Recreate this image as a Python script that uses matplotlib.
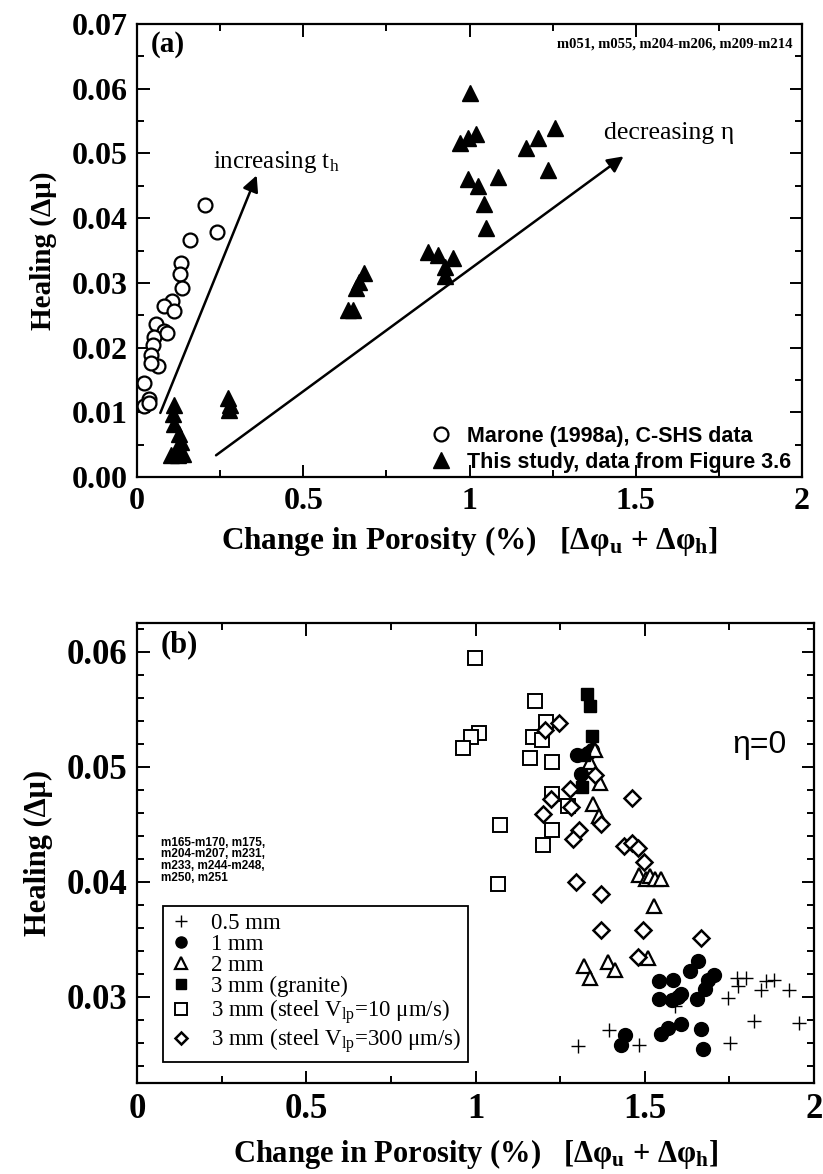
import matplotlib
matplotlib.use("Agg")
import matplotlib.pyplot as plt
from matplotlib.ticker import MultipleLocator, FixedLocator, FixedFormatter

plt.rcParams['font.family'] = ['Liberation Serif', 'DejaVu Serif']
plt.rcParams['mathtext.fontset'] = 'custom'
plt.rcParams['mathtext.rm'] = 'Liberation Serif'
plt.rcParams['mathtext.it'] = 'Liberation Serif:italic'
plt.rcParams['mathtext.bf'] = 'Liberation Serif:bold'

# ---- panel (a) data ----
marone_x = [0.205, 0.241, 0.160, 0.132, 0.130, 0.134, 0.104, 0.082, 0.110, 0.057, 0.082,
            0.052, 0.047, 0.042, 0.062, 0.042, 0.022, 0.037, 0.022, 0.090, 0.035]
marone_y = [0.0420, 0.0379, 0.0366, 0.0330, 0.0313, 0.0292, 0.0272, 0.0264, 0.0257, 0.0237, 0.0226,
            0.0216, 0.0204, 0.0189, 0.0171, 0.0176, 0.0145, 0.0120, 0.0110, 0.0222, 0.0115]

study_x = [0.110, 0.107, 0.112, 0.127, 0.132, 0.117, 0.137, 0.102, 0.122,
           0.273, 0.280, 0.276,
           0.634, 0.649, 0.659, 0.669, 0.684,
           0.875, 0.905, 0.950, 0.925, 0.925,
           1.256, 1.206, 1.170, 1.236, 1.085, 1.020, 0.995, 0.970, 0.995, 1.025, 1.043, 1.050, 1.000]
study_y = [0.0112, 0.0097, 0.0082, 0.0067, 0.0054, 0.0041, 0.0036, 0.0034, 0.0034,
           0.0122, 0.0112, 0.0103,
           0.0258, 0.0258, 0.0292, 0.0302, 0.0315,
           0.0348, 0.0343, 0.0338, 0.0325, 0.0310,
           0.0539, 0.0524, 0.0508, 0.0475, 0.0464, 0.0530, 0.0524, 0.0516, 0.0460, 0.0450, 0.0422, 0.0384, 0.0593]

# ---- panel (b) data ----
x05 = [1.302, 1.395, 1.482, 1.590, 1.747, 1.753, 1.773, 1.775, 1.799, 1.824, 1.843, 1.858, 1.881, 1.927, 1.956]
y05 = [0.0257, 0.0271, 0.0258, 0.0292, 0.0299, 0.0260, 0.0316, 0.0309, 0.0316, 0.0279, 0.0306, 0.0314, 0.0315, 0.0306, 0.0277]

x1 = [1.313, 1.300, 1.333, 1.345, 1.429, 1.441, 1.542, 1.583, 1.542, 1.580, 1.608, 1.598,
      1.655, 1.635, 1.657, 1.706, 1.686, 1.678, 1.549, 1.569, 1.608, 1.665, 1.672]
y1 = [0.0494, 0.0510, 0.0512, 0.0515, 0.0258, 0.0267, 0.0314, 0.0315, 0.0298, 0.0297, 0.0302, 0.0300,
      0.0298, 0.0322, 0.0331, 0.0319, 0.0315, 0.0307, 0.0268, 0.0273, 0.0276, 0.0272, 0.0255]

x2 = [1.338, 1.367, 1.348, 1.365, 1.353, 1.483, 1.505, 1.515, 1.529, 1.547, 1.527, 1.510, 1.321, 1.338, 1.392, 1.413]
y2 = [0.0504, 0.0486, 0.0468, 0.0457, 0.0515, 0.0406, 0.0402, 0.0405, 0.0402, 0.0402, 0.0379, 0.0334, 0.0327, 0.0316, 0.0330, 0.0323]

xg = [1.328, 1.338, 1.343, 1.315, 1.320]
yg = [0.0563, 0.0553, 0.0527, 0.0482, 0.0510]

xs10 = [0.999, 1.176, 1.207, 1.009, 0.988, 0.962, 1.171, 1.196, 1.161, 1.225, 1.225, 1.272, 1.071, 1.225, 1.198, 1.065]
ys10 = [0.0595, 0.0557, 0.0539, 0.0529, 0.0526, 0.0516, 0.0526, 0.0523, 0.0508, 0.0504, 0.0476, 0.0466, 0.0449, 0.0445, 0.0432, 0.0398]

xs300 = [1.247, 1.205, 1.353, 1.279, 1.222, 1.282, 1.461, 1.200, 1.372, 1.307, 1.289, 1.439, 1.461, 1.480,
         1.498, 1.297, 1.372, 1.372, 1.495, 1.667, 1.480]
ys300 = [0.0538, 0.0532, 0.0493, 0.0481, 0.0472, 0.0465, 0.0473, 0.0459, 0.0450, 0.0445, 0.0437, 0.0431, 0.0434, 0.0429,
         0.0417, 0.0400, 0.0389, 0.0358, 0.0358, 0.0351, 0.0335]

xticks = [0, 0.5, 1, 1.5, 2]
xtick_labels = ['0', '0.5', '1', '1.5', '2']
xlabel = r'Change in Porosity (%)   [Δφ$_\mathregular{u}$ + Δφ$_\mathregular{h}$]'


def style_axis(ax, lab_size):
    for s in ax.spines.values():
        s.set_linewidth(1.6)
    ax.tick_params(which='both', direction='in', top=True, right=True, width=1.4)
    ax.tick_params(which='major', length=9, labelsize=lab_size, pad=7)
    ax.tick_params(which='minor', length=5)
    for t in ax.get_xticklabels() + ax.get_yticklabels():
        t.set_fontweight('bold')


fig = plt.figure(figsize=(8.23, 11.74), dpi=100)

# ---------------- (a) ----------------
ax1 = fig.add_axes([137 / 823, 1 - 477 / 1174, (802 - 137) / 823, (477 - 24) / 1174])
ax1.plot(marone_x, marone_y, 'o', mfc='white', mec='black', mew=1.6, ms=10,
         label='Marone (1998a), C-SHS data')
ax1.plot(study_x, study_y, '^', mfc='black', mec='black', ms=11,
         label='This study, data from Figure 3.6')
ax1.set_xlim(0, 2)
ax1.set_ylim(0, 0.07)
ax1.xaxis.set_major_locator(FixedLocator(xticks))
ax1.xaxis.set_major_formatter(FixedFormatter(xtick_labels))
ax1.xaxis.set_minor_locator(MultipleLocator(0.25))
ax1.yaxis.set_major_locator(MultipleLocator(0.01))
ax1.yaxis.set_minor_locator(MultipleLocator(0.005))
ax1.yaxis.set_major_formatter(plt.FuncFormatter(lambda v, p: f'{v:.2f}'))
style_axis(ax1, 23)
ax1.set_xlabel(xlabel, fontsize=22.5, fontweight='bold', labelpad=6)
ax1.set_ylabel('Healing (Δμ)', fontsize=21, fontweight='bold', labelpad=10)

ax1.annotate('', xy=(0.363, 0.047), xytext=(0.067, 0.0095),
             arrowprops=dict(arrowstyle='-|>', color='black', lw=1.8, mutation_scale=24))
ax1.annotate('', xy=(1.47, 0.0498), xytext=(0.231, 0.0031),
             arrowprops=dict(arrowstyle='-|>', color='black', lw=1.8, mutation_scale=24))
ax1.text(0.228, 0.0478, r'increasing t$_\mathregular{h}$', fontsize=18)
ax1.text(1.405, 0.0522, 'decreasing η', fontsize=18.5)
ax1.text(0.02, 0.985, '(a)', transform=ax1.transAxes, fontsize=21, fontweight='bold', va='top')
ax1.text(0.985, 0.955, 'm051, m055, m204-m206, m209-m214', transform=ax1.transAxes,
         fontsize=10.5, fontweight='bold', ha='right', va='center')
leg1 = ax1.legend(loc='lower right', bbox_to_anchor=(1.0, -0.015), frameon=False,
                  prop={'family': 'Liberation Sans', 'weight': 'bold', 'size': 15.5},
                  handletextpad=0.6, labelspacing=0.25, borderaxespad=0.1, handlelength=1.2)

# ---------------- (b) ----------------
ax2 = fig.add_axes([137 / 823, 1 - 1083 / 1174, (814 - 137) / 823, (1083 - 623) / 1174])
ax2.plot(x05, y05, '+', color='black', ms=10, mew=1.0, label='0.5 mm')
ax2.plot(x1, y1, 'o', mfc='black', mec='black', ms=10, label='1 mm')
ax2.plot(x2, y2, '^', mfc='white', mec='black', mew=1.6, ms=10, label='2 mm')
ax2.plot(xg, yg, 's', mfc='black', mec='black', ms=9, label='3 mm (granite)')
ax2.plot(xs10, ys10, 's', mfc='white', mec='black', mew=1.4, ms=10,
         label=r'3 mm (steel V$_\mathregular{lp}$=10 μm/s)')
ax2.plot(xs300, ys300, 'D', mfc='white', mec='black', mew=1.8, ms=8,
         label=r'3 mm (steel V$_\mathregular{lp}$=300 μm/s)')
ax2.set_xlim(0, 2)
ax2.set_ylim(0.0225, 0.0625)
ax2.xaxis.set_major_locator(FixedLocator(xticks))
ax2.xaxis.set_major_formatter(FixedFormatter(xtick_labels))
ax2.xaxis.set_minor_locator(MultipleLocator(0.25))
ax2.yaxis.set_major_locator(MultipleLocator(0.01))
ax2.yaxis.set_minor_locator(MultipleLocator(0.002))
ax2.yaxis.set_major_formatter(plt.FuncFormatter(lambda v, p: f'{v:.2f}'))
style_axis(ax2, 25)
ax2.set_xlabel(xlabel, fontsize=22, fontweight='bold', labelpad=8)
ax2.set_ylabel('Healing (Δμ)', fontsize=22, fontweight='bold', labelpad=10)

ax2.text(0.035, 0.985, '(b)', transform=ax2.transAxes, fontsize=22, fontweight='bold', va='top')
ax2.text(1.76, 0.0519, 'η=0', fontsize=23, family='Liberation Sans', va='center')
ax2.text(0.035, 0.535, 'm165-m170, m175,\nm204-m207, m231,\nm233, m244-m248,\nm250, m251',
         transform=ax2.transAxes, fontsize=8.5, fontweight='bold', family='Liberation Sans',
         va='top', linespacing=0.95)
leg2 = ax2.legend(loc='lower left', bbox_to_anchor=(0.038, 0.046), borderaxespad=0,
                  prop={'family': 'Liberation Serif', 'size': 16.5}, fancybox=False,
                  edgecolor='black', framealpha=1, labelspacing=0.0, handletextpad=0.8,
                  handlelength=1.0, borderpad=0.3, markerscale=0.8)
leg2.get_frame().set_linewidth(1.3)

fig.savefig('out.png', dpi=100)
